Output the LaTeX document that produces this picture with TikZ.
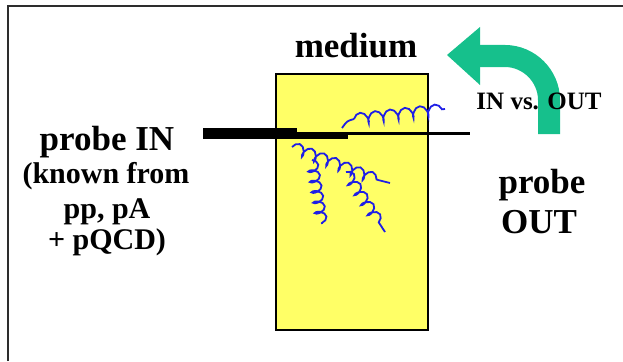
\documentclass[tikz,border=0pt]{standalone}
\usepackage{fontspec}
\setmainfont{Liberation Serif}
\usetikzlibrary{decorations.pathmorphing}
\definecolor{mediumyellow}{RGB}{255,255,102}
\definecolor{gluonblue}{RGB}{30,30,230}
\definecolor{arrowgreen}{RGB}{22,192,140}
\definecolor{framegray}{RGB}{45,45,45}
\begin{document}
\begin{tikzpicture}[x=1pt,y=-1pt,
  big/.style={font=\bfseries\fontsize{35}{35}\selectfont, inner sep=0pt, anchor=base},
  small/.style={font=\bfseries\fontsize{30}{30}\selectfont, inner sep=0pt, anchor=base},
  tiny/.style={font=\bfseries\fontsize{25}{25}\selectfont, inner sep=0pt, anchor=base},
  gluonline/.style={draw=gluonblue, line width=1.8pt},
  gluon/.style={gluonline, decorate,
    decoration={coil, amplitude=5.5pt, segment length=#1, aspect=0.55}},
  gluon/.default=13pt,
]
\useasboundingbox (0,0) rectangle (623,361);

% outer frame (top and left edges)
\draw[framegray, line width=2.5pt] (8,361) -- (8,6) -- (623,6);

% the medium
\draw[fill=mediumyellow, line width=2pt] (276,74) rectangle (428,330);

% incoming and outgoing probe
\fill[black] (203,128) rectangle (297,139);
\fill[black] (297,133) rectangle (348,139);
\draw[black, line width=3.5pt] (297,133.5) -- (470,133.5);

% radiated gluons
\draw[gluonline] (342,128) .. controls (347,121) .. (354,119);
\draw[gluon=15pt] (354,119) -- (445,109);
\draw[gluon=13pt] (292,147) -- (378,180);
\draw[gluonline] (378,180) -- (390,183);
\draw[gluon=10.5pt] (312,160) -- (322,224);
\draw[gluon=12pt] (346,172) -- (385,232);

% IN vs. OUT arrow
\draw[arrowgreen, line width=22pt] (549,134) -- (549,100)
  .. controls (549,76) and (529,56) .. (505,56) -- (479,56);
\fill[arrowgreen] (480,27) -- (447,55) -- (480,85) -- cycle;

% labels
\node[big] (medium) at (356,58) {medium};
\node[big] (probein) at (107,150) {probe IN};
\node[small] (known) at (106,183) {(known from};
\node[small] (pp) at (107,218) {pp, pA};
\node[small] (pqcd) at (107,249) {+ pQCD)};
\node[tiny] (invsout) at (539,109) {IN vs. OUT};
\node[big] (probe) at (542,193) {probe};
\node[big] (out) at (539,233) {OUT};
\end{tikzpicture}
\end{document}
